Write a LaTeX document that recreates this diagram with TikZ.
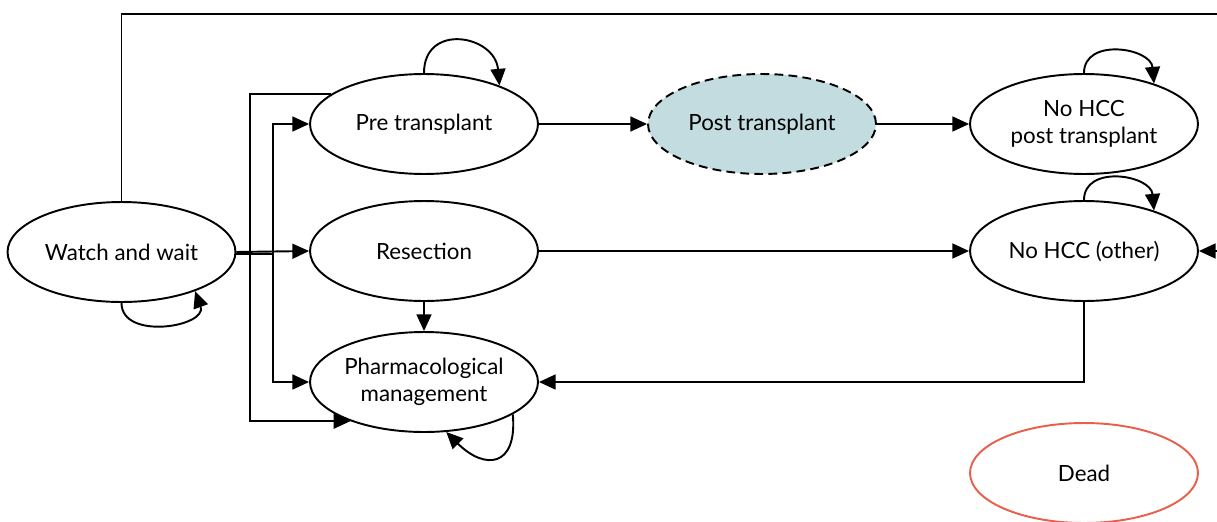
\documentclass[tikz,border=0pt]{standalone}
\usepackage{fontspec}
\setmainfont{Lato}
\usetikzlibrary{arrows.meta,shapes.geometric,positioning}

\definecolor{postfill}{RGB}{194,220,224}
\definecolor{deadred}{RGB}{232,96,76}

\begin{document}
\begin{tikzpicture}[x=0.02cm,y=-0.02cm,
    state/.style={ellipse,draw,line width=1.1pt,minimum width=4.56cm,minimum height=2cm,
      inner sep=0pt,align=center,font=\fontsize{12.7}{15.3}\selectfont},
    arr/.style={line width=1.1pt,-{Triangle[length=9.5pt,width=8.5pt]}}]
    \useasboundingbox (0,0) rectangle (1217,521);

    % states
    \node[state] (wait)  at (121.5,252) {Watch and wait};
    \node[state] (pre)   at (424,124) {Pre transplant};
    \node[state,fill=postfill,dash pattern=on 5pt off 3pt] (post) at (762,124) {Post transplant};
    \node[state] (nopost) at (1084,124) {No HCC\\post transplant};
    \node[state] (res)   at (424,251) {Resection};
    \node[state] (other) at (1084,251) {No HCC (other)};
    \node[state] (pharm) at (424,382) {Pharmacological\\management};
    \node[state,draw=deadred] (dead) at (1084,473) {Dead};

    % helper points for the vertical runs
    \coordinate (busA) at (250,0);
    \coordinate (busB) at (273,0);
    \coordinate (topR) at (1240,14);

    % transitions
    \draw[arr] (wait.north) |- (topR) |- (other.east);
    \draw[arr] (wait.east) -- (res.west);
    \draw[arr] (wait.-1.5) -- (wait.-1.5 -| busB) |- (pre.west);
    \draw[arr] (wait.-1.5) -- (wait.-1.5 -| busB) |- (pharm.west);
    \draw[arr] (pre.162) -- (pre.162 -| busA) |- (pharm.208);
    \draw[arr] (pre.east) -- (post.west);
    \draw[arr] (post.east) -- (nopost.west);
    \draw[arr] (res.east) -- (other.west);
    \draw[arr] (res.south) -- (pharm.north);
    \draw[arr] (other.south) |- (pharm.east);

    % staying in the same state
    \draw[arr] (wait.south) to[out=-90,in=-70,looseness=1.3] (wait.-28);
    \draw[arr] (pre.north) to[out=90,in=95,looseness=1.7] (pre.27);
    \draw[arr] (nopost.north) to[out=90,in=95,looseness=1.3] (nopost.30);
    \draw[arr] (other.north) to[out=90,in=95,looseness=1.3] (other.30);
    \draw[arr] (pharm.-20) to[out=-85,in=-45,looseness=2] (pharm.-66);
\end{tikzpicture}
\end{document}
